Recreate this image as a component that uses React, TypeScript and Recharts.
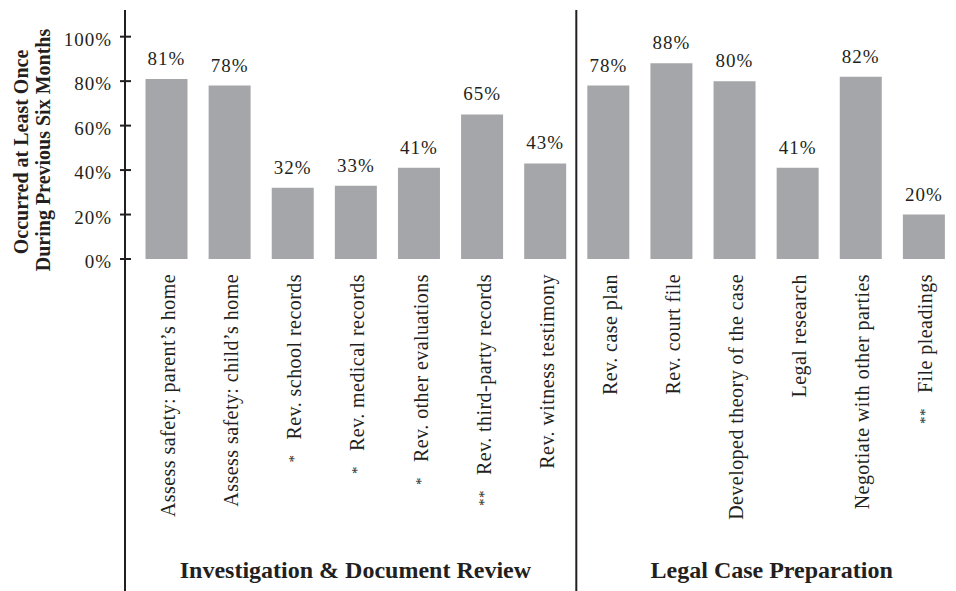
import React from 'react';
import { BarChart, Bar, XAxis, YAxis, LabelList, ReferenceLine } from 'recharts';

const categories = [
  'Assess safety: parent\u2019s home',
  'Assess safety: child\u2019s home',
  'Rev. school records',
  'Rev. medical records',
  'Rev. other evaluations',
  'Rev. third-party records',
  'Rev. witness testimony',
  'Rev. case plan',
  'Rev. court file',
  'Developed theory of the case',
  'Legal research',
  'Negotiate with other parties',
  'File pleadings',
];
const significance = ['', '', '*', '*', '*', '**', '', '', '', '', '', '', '**'];
const values = [81, 78, 32, 33, 41, 65, 43, 78, 88, 80, 41, 82, 20];
const yTicks = [0, 20, 40, 60, 80, 100];
const groupNames = ['Investigation & Document Review', 'Legal Case Preparation'];
const groupFirst = [0, 7];
const groupLast = [6, 12];
const yTitle = ['Occurred at Least Once', 'During Previous Six Months'];

const data = categories.map((name, i) => ({ name, value: values[i] }));

const W = 956;
const H = 591;
const FONT = '"Liberation Serif", "Times New Roman", serif';
const INK = '#231f20';
const BAR = '#a5a6a9';
const AXIS_X = 125;

const XTick = (props: any) => {
  const { x, y, payload } = props;
  const i = payload.index ?? props.index;
  const mark = significance[i];
  const half = payload.offset ?? 31.5;
  const gi = groupFirst.indexOf(i);
  const tx = x + 9;
  const ty = y + 7;
  return (
    <g>
      <text
        x={tx}
        y={ty}
        transform={`rotate(-90, ${tx}, ${ty})`}
        textAnchor="end"
        fontFamily={FONT}
        fontSize={20}
        letterSpacing={0.45}
        fill={INK}
      >
        {mark ? (
          <tspan fontSize={15} dy={-2}>
            {mark}
          </tspan>
        ) : null}
        <tspan dx={mark ? 15 : 0} dy={mark ? 2 : 0}>
          {categories[i]}
        </tspan>
      </text>
      {gi >= 0 ? (
        <text
          x={x + (groupLast[gi] - groupFirst[gi]) * half + (gi === 1 ? 6 : 0)}
          y={y + 311}
          textAnchor="middle"
          fontFamily={FONT}
          fontSize={24}
          fontWeight="bold"
          fill={INK}
        >
          {groupNames[gi]}
        </text>
      ) : null}
    </g>
  );
};

const YTick = (props: any) => {
  const { x, y, payload } = props;
  return (
    <g>
      <line x1={x + 8} x2={x + 19} y1={y} y2={y} stroke={INK} strokeWidth={2} />
      <text
        x={x}
        y={y}
        dy={9}
        textAnchor="end"
        fontFamily={FONT}
        fontSize={19}
        letterSpacing={1}
        fill={INK}
      >
        {`${payload.value}%`}
      </text>
    </g>
  );
};

const DividerShape = (p: any) => {
  const top = Math.min(p.y1, p.y2);
  return <line x1={p.x1} x2={p.x2} y1={top} y2={H} stroke={INK} strokeWidth={2} />;
};

export default function App() {
  return (
    <div style={{ position: 'absolute', left: 0, top: 0, background: '#fff' }}>
      <BarChart
        width={W}
        height={H}
        data={data}
        margin={{ top: 10, right: 1, bottom: 0, left: 0 }}
      >
        <XAxis
          dataKey="name"
          type="category"
          interval={0}
          height={332}
          axisLine={false}
          tickLine={false}
          padding={{ left: 9.5, right: 0 }}
          tick={<XTick />}
        />
        <YAxis
          type="number"
          domain={[0, 112]}
          ticks={yTicks}
          width={AXIS_X}
          axisLine={false}
          tickLine={false}
          tickSize={5}
          tickMargin={8}
          tick={<YTick />}
        />
        <ReferenceLine
          x={categories[6]}
          position="end"
          stroke={INK}
          strokeWidth={2}
          shape={<DividerShape />}
        />
        <Bar dataKey="value" fill={BAR} barSize={42} isAnimationActive={false}>
          <LabelList
            dataKey="value"
            position="top"
            offset={14}
            formatter={(v: any) => `${v}%`}
            fill={INK}
            fontFamily={FONT}
            fontSize={19}
            letterSpacing={1}
          />
        </Bar>
        <line x1={AXIS_X} x2={AXIS_X} y1={10} y2={H} stroke={INK} strokeWidth={2} />
        <text
          transform="rotate(-90)"
          textAnchor="middle"
          fontFamily={FONT}
          fontSize={20}
          fontWeight="bold"
          fill={INK}
        >
          <tspan x={-152} y={28}>
            {yTitle[0]}
          </tspan>
          <tspan x={-150} y={50}>
            {yTitle[1]}
          </tspan>
        </text>
      </BarChart>
    </div>
  );
}
